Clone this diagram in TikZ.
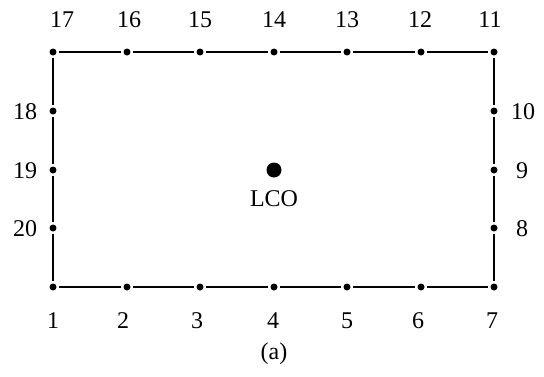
\documentclass[tikz,border=0pt]{standalone}
\usepackage{fontspec}
\setmainfont{Liberation Serif}
\begin{document}
\begin{tikzpicture}[x=1pt,y=-1pt,
  dot/.style={circle,fill=black,inner sep=0pt,minimum size=7pt,outer sep=2.8pt},
  bigdot/.style={circle,fill=black,inner sep=0pt,minimum size=15pt},
  lab/.style={inner sep=0pt,font=\fontsize{24}{28}\selectfont},
  edge/.style={line width=1.4pt}]
\useasboundingbox (0,0) rectangle (544,376);
% bottom dots 1..7
\foreach \i/\x in {1/53,2/127,3/200,4/274,5/347,6/421,7/494}{
  \node[dot] (p\i) at (\x,287) {};
}
% right side 8..10
\node[dot] (p8) at (494,228) {};
\node[dot] (p9) at (494,170) {};
\node[dot] (p10) at (494,111) {};
% top 11..17
\foreach \i/\x in {11/494,12/421,13/347,14/274,15/200,16/127,17/53}{
  \node[dot] (p\i) at (\x,52) {};
}
% left 18..20
\node[dot] (p18) at (53,111) {};
\node[dot] (p19) at (53,170) {};
\node[dot] (p20) at (53,228) {};
% edges
\foreach \a/\b in {1/2,2/3,3/4,4/5,5/6,6/7,7/8,8/9,9/10,10/11,11/12,12/13,13/14,14/15,15/16,16/17,17/18,18/19,19/20,20/1}{
  \draw[edge] (p\a) -- (p\b);
}
% labels bottom
\foreach \i/\x in {1/53,2/123,3/197,4/273,5/347,6/418,7/492}{
  \node[lab] (l\i) at (\x,321) {\i};
}
% labels top
\foreach \i/\x in {11/490,12/420,13/347,14/274,15/200,16/129,17/62}{
  \node[lab] (l\i) at (\x,20) {\i};
}
% labels left/right
\node[lab] (l18) at (25,112) {18};
\node[lab] (l19) at (25,171) {19};
\node[lab] (l20) at (25,229) {20};
\node[lab] (l10) at (523,112) {10};
\node[lab] (l9) at (522,171) {9};
\node[lab] (l8) at (522,229) {8};
% center
\node[bigdot] (lco) at (274,170) {};
\node[lab] (lcolab) at (274,199) {LCO};
\node[lab] (cap) at (274,354) {(a)};
\end{tikzpicture}
\end{document}
